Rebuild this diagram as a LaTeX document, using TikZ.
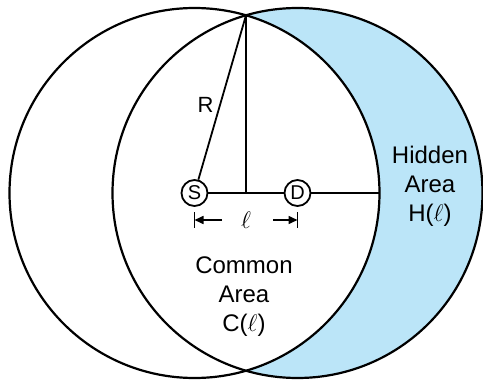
\documentclass[tikz,border=0pt]{standalone}
\usepackage{fontspec}
\setmainfont{Liberation Sans}
\usetikzlibrary{arrows.meta, calc}
\definecolor{oculto}{HTML}{BBE5F8}
\tikzset{
  circulo/.style={draw=black, line width=1.1pt},
  linea/.style={draw=black, line width=0.9pt},
  punto/.style={circle, draw=black, line width=0.9pt, fill=white,
    minimum size=13pt, inner sep=0pt, font=\fontsize{10}{11}\selectfont},
  etiqueta/.style={align=center, inner sep=0pt,
    font=\fontsize{12}{14.5}\selectfont},
  cota/.style={draw=black, line width=0.8pt},
  flecha/.style={-{Triangle[length=4.5pt, width=4pt]}, line width=0.8pt}
}

\begin{document}
\begin{tikzpicture}[x=0.5pt, y=0.5pt]
  \useasboundingbox (0,0) rectangle (483,387);

  % --- Centros y radio ---
  \def\radio{185}
  \coordinate (cS) at (194.5,194);
  \coordinate (cD) at (297.5,194);
  \coordinate (arriba) at (246,371.7);
  \coordinate (pie) at (246,194);
  \coordinate (borde) at (379.5,194);

  % --- Area oculta (circulo derecho menos el izquierdo) ---
  \fill[oculto] (cD) circle (\radio);
  \fill[white] (cS) circle (\radio);
  \draw[circulo] (cS) circle (\radio);
  \draw[circulo] (cD) circle (\radio);

  % --- Puntos S y D ---
  \node[punto] (S) at (cS) {S};
  \node[punto] (D) at (cD) {D};

  % --- Lineas ---
  \draw[linea] (S) -- (D) -- (borde);
  \draw[linea] (arriba) -- (pie);
  \draw[linea] (S) -- (arriba);
  \node[etiqueta, font=\fontsize{11}{12}\selectfont] (radio) at (205.5,282.5) {R};

  % --- Cota l ---
  \coordinate (cotaS) at (194.5,167);
  \coordinate (cotaD) at (297.5,167);
  \node[etiqueta] (ele) at (246,167) {$\ell$};
  \draw[cota] ($(cotaS)+(0,8)$) -- ($(cotaS)+(0,-8)$);
  \draw[cota] ($(cotaD)+(0,8)$) -- ($(cotaD)+(0,-8)$);
  \draw[flecha] ($(ele)+(-24,0)$) -- (cotaS);
  \draw[flecha] ($(ele)+(27,0)$) -- (cotaD);

  % --- Textos de las areas ---
  \node[etiqueta] (comun) at (244,90) {Common\\ Area\\ C($\ell$)};
  \node[etiqueta] (oculta) at (430,201) {Hidden\\ Area\\ H($\ell$)};

\end{tikzpicture}
\end{document}
